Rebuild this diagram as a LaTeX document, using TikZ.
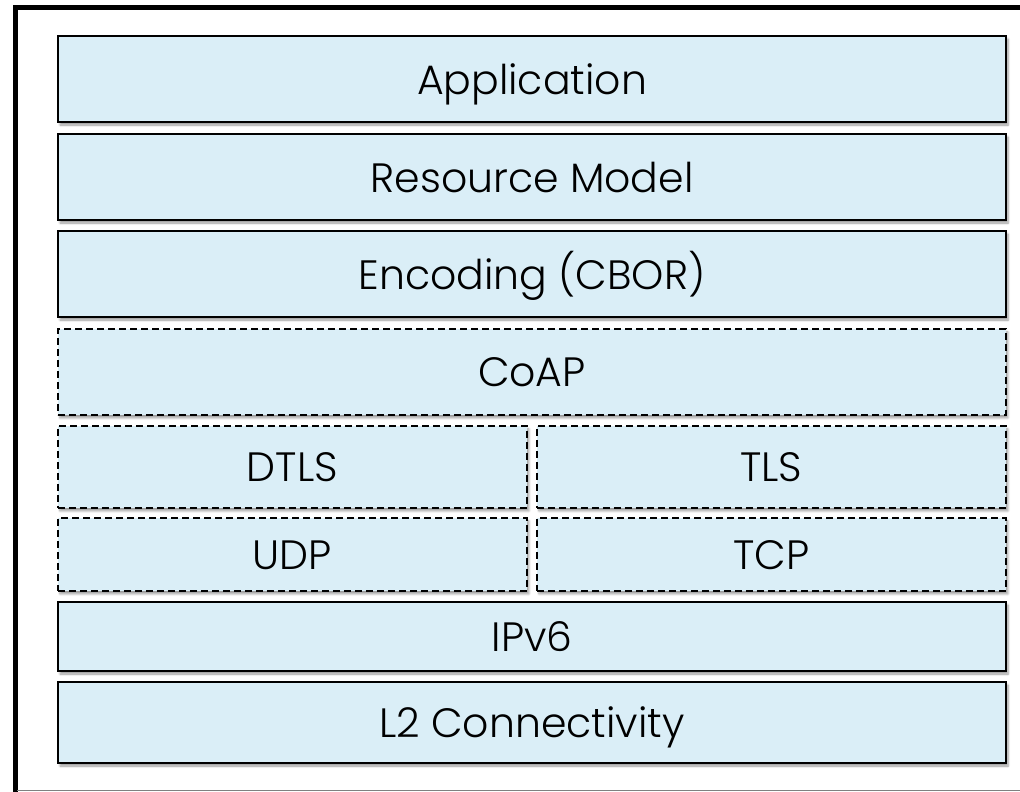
\documentclass[tikz,border=0pt]{standalone}
\usepackage{fontspec}
\setmainfont{Poppins Light}
\usetikzlibrary{shadows.blur}
\definecolor{layerfill}{RGB}{218,238,247}
\begin{document}
\begin{tikzpicture}[x=1pt,y=-1pt,
  layer/.style={draw=black, line width=2pt, fill=layerfill, anchor=north west,
    inner sep=0pt, text height=30pt, text depth=0pt,
    font=\fontsize{41}{48}\selectfont,
    blur shadow={shadow xshift=2pt, shadow yshift=-3pt, shadow blur steps=6, shadow opacity=40}},
  dlayer/.style={layer, line width=1.8pt, dash pattern=on 7pt off 4pt},
  full/.style={minimum width=948pt},
  half/.style={minimum width=469pt}]
\useasboundingbox (0,0) rectangle (1020,792);
\draw[line width=5pt] (15,792) -- (15,7.5) -- (1020,7.5);
\draw[gray, line width=1.5pt] (17,790.5) -- (1020,790.5);
\node[layer, full, minimum height=86pt] (app) at (57,35) {Application};
\node[layer, full, minimum height=86pt] (res) at (57,133) {Resource Model};
\node[layer, full, minimum height=86pt] (enc) at (57,230) {Encoding (CBOR)};
\node[dlayer, full, minimum height=86pt] (coap) at (57,328) {CoAP};
\node[dlayer, half, minimum height=82pt] (dtls) at (57,425) {DTLS};
\node[dlayer, half, minimum height=82pt] (tls) at (536,425) {TLS};
\node[dlayer, half, minimum height=73pt] (udp) at (57,517) {UDP};
\node[dlayer, half, minimum height=73pt] (tcp) at (536,517) {TCP};
\node[layer, full, minimum height=69pt] (ipv6) at (57,601) {IPv6};
\node[layer, full, minimum height=81pt] (l2) at (57,681) {L2 Connectivity};
\end{tikzpicture}
\end{document}
